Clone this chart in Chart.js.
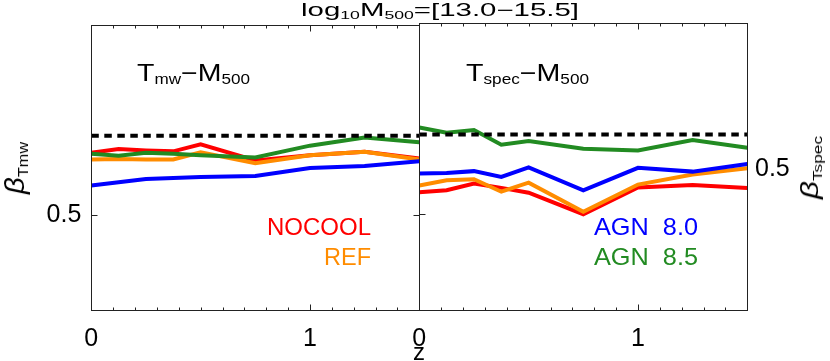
<!DOCTYPE html>
<html>
<head>
<meta charset="utf-8">
<script src="https://cdn.jsdelivr.net/npm/chart.js@4.4.1/dist/chart.umd.min.js"></script>
<style>
  html, body { margin: 0; padding: 0; background: #fff; }
  #wrap { position: relative; width: 830px; height: 361px; overflow: hidden; font-family: 'Liberation Sans', Arial, sans-serif; }
  .box { position: absolute; top: 0; height: 361px; }
  .txt { position: absolute; white-space: nowrap; line-height: 1; transform-origin: 0 0; }
  .txt span { position: relative; font-size: 0.6em; top: 0.27em; }
  .txt span.vs { font-size: 0.55em; top: 0.3em; }
</style>
</head>
<body>
<div id="wrap">
  <div class="box" style="left:0;width:420px"><canvas id="tmw"></canvas></div>
  <div class="box" style="left:400px;width:430px"><canvas id="tspec"></canvas></div>
</div>
<script>
const redshifts = [0, 0.125, 0.25, 0.375, 0.5, 0.75, 1.0, 1.25, 1.5]
const selfSimilar = 2 / 3

// slope of T_mw - M500
const tmwNocool = [0.631, 0.639, 0.636, 0.634, 0.649, 0.615, 0.626, 0.633, 0.619]
const tmwRef = [0.617, 0.618, 0.617, 0.617, 0.632, 0.609, 0.626, 0.633, 0.617]
const tmwAgn80 = [0.562, 0.569, 0.576, 0.578, 0.580, 0.582, 0.599, 0.603, 0.613]
const tmwAgn85 = [0.629, 0.625, 0.631, 0.629, 0.626, 0.621, 0.646, 0.663, 0.653]

// slope of T_spec - M500
const tspecNocool = [0.546, 0.550, 0.564, 0.555, 0.545, 0.500, 0.556, 0.561, 0.555]
const tspecRef = [0.560, 0.571, 0.573, 0.547, 0.566, 0.505, 0.562, 0.583, 0.596]
const tspecAgn80 = [0.585, 0.586, 0.590, 0.578, 0.598, 0.550, 0.597, 0.589, 0.605]
const tspecAgn85 = [0.681, 0.670, 0.676, 0.645, 0.653, 0.637, 0.633, 0.655, 0.639]

const xTicks = [0, 1]
const yTicks = [0.5]

const red = '#ff0000'
const orange = '#ff8c00'
const blue = '#0000ff'
const green = 'rgb(34,139,34)'
const tickFont = { family: "'Liberation Sans', Arial, sans-serif", size: 25 }

const pts = (ys) => ys.map((y, i) => ({ x: redshifts[i], y }))

const lineSet = (label, ys, color, order) => ({
  label,
  data: pts(ys),
  borderColor: color,
  borderWidth: 4,
  pointRadius: 0,
  order,
  clip: 0,
})

const dashedSet = () => ({
  label: 'self-similar',
  data: [
    { x: redshifts[0], y: selfSimilar },
    { x: redshifts[redshifts.length - 1], y: selfSimilar },
  ],
  borderColor: '#000',
  borderWidth: 4,
  borderDash: [7.5, 5.5],
  pointRadius: 0,
  order: 0,
  clip: 0,
})

const series = (nocool, ref, agn80, agn85) => [
  dashedSet(),
  lineSet('AGN 8.5', agn85, green, 1),
  lineSet('AGN 8.0', agn80, blue, 2),
  lineSet('REF', ref, orange, 3),
  lineSet('NOCOOL', nocool, red, 4),
]

// crisp 1px lines
const px = (v) => Math.round(v) + 0.5

// box round each panel, IDL-style ticks pointing inwards
const frameTicks = {
  id: 'frameTicks',
  afterDatasetsDraw(chart, args, opts) {
    const { ctx, chartArea: a, scales } = chart
    const l = px(a.left), r = px(a.right), t = px(a.top), b = px(a.bottom)
    ctx.save()
    ctx.strokeStyle = '#222'
    ctx.lineWidth = 1
    ctx.strokeRect(l, t, r - l, b - t)
    ctx.beginPath()
    for (let i = 0; i <= 15; i++) {
      const x = px(scales.x.getPixelForValue(i / 10))
      const len = i % 10 === 0 ? 6 : 3
      ctx.moveTo(x, b)
      ctx.lineTo(x, b - len)
      ctx.moveTo(x, t)
      ctx.lineTo(x, t + len)
    }
    yTicks.forEach((v) => {
      const y = px(scales.y.getPixelForValue(v))
      ctx.moveTo(l, y)
      ctx.lineTo(l + 6, y)
      if (opts.rightTicks) {
        ctx.moveTo(r, y)
        ctx.lineTo(r - 6, y)
      }
    })
    ctx.stroke()
    ctx.restore()
  },
}

const setTicks = (values) => (axis) => {
  axis.ticks = values.map((value) => ({ value }))
}

const xScale = {
  type: 'linear',
  min: 0,
  max: 1.5,
  afterBuildTicks: setTicks(xTicks),
  afterFit: (a) => {
    a.height = 51
    // the "0" label may hang over the panel edge
    a.paddingLeft = 0
    a.paddingRight = 0
  },
  grid: { display: false, drawTicks: false },
  border: { display: false },
  ticks: { font: tickFont, color: '#000', padding: 14, maxRotation: 0 },
}

const tmwChart = new Chart(document.getElementById('tmw'), {
  type: 'line',
  data: { datasets: series(tmwNocool, tmwRef, tmwAgn80, tmwAgn85) },
  options: {
    animation: false,
    responsive: true,
    maintainAspectRatio: false,
    layout: { padding: { top: 22.7, right: 0.7, left: 0, bottom: 0 } },
    plugins: { legend: { display: false }, tooltip: { enabled: false }, frameTicks: { rightTicks: true } },
    scales: {
      x: xScale,
      y: {
        min: 0.3,
        max: 0.9,
        afterBuildTicks: setTicks(yTicks),
        afterFit: (a) => { a.width = 91.3 },
        grid: { display: false, drawTicks: false },
        border: { display: false },
        ticks: { font: tickFont, color: '#000', padding: 10 },
      },
    },
  },
  plugins: [frameTicks],
})

const tspecChart = new Chart(document.getElementById('tspec'), {
  type: 'line',
  data: { datasets: series(tspecNocool, tspecRef, tspecAgn80, tspecAgn85) },
  options: {
    animation: false,
    responsive: true,
    maintainAspectRatio: false,
    layout: { padding: { top: 22.7, right: 0, left: 0, bottom: 0 } },
    plugins: { legend: { display: false }, tooltip: { enabled: false }, frameTicks: { rightTicks: false } },
    scales: {
      x: xScale,
      y: {
        min: 0.3,
        max: 0.9,
        afterBuildTicks: setTicks(yTicks),
        afterFit: (a) => { a.width = 19.3 },
        grid: { display: false, drawTicks: false },
        border: { display: false },
        ticks: { display: false },
      },
      y2: {
        position: 'right',
        min: 0.2,
        max: 0.81,
        afterBuildTicks: setTicks(yTicks),
        afterFit: (a) => { a.width = 82.7 },
        grid: { display: false, drawTicks: false },
        border: { display: false },
        ticks: { font: tickFont, color: '#000', padding: 7.7 },
      },
    },
  },
  plugins: [frameTicks],
})

// text with subscripts
const wrap = document.getElementById('wrap')
const addText = (html, { size, left, right, base, color = '#000' }) => {
  const d = document.createElement('div')
  d.className = 'txt'
  d.innerHTML = html
  d.style.fontSize = size + 'px'
  d.style.color = color
  wrap.appendChild(d)
  const s = (right - left) / d.getBoundingClientRect().width
  d.style.left = left + 'px'
  d.style.top = base - 0.8465 * size + 'px'
  d.style.transform = `scaleX(${s})`
}
const addVText = (html, { size, x, bottom, top }) => {
  const d = document.createElement('div')
  d.className = 'txt'
  d.innerHTML = html
  d.style.fontSize = size + 'px'
  wrap.appendChild(d)
  const s = (bottom - top) / d.getBoundingClientRect().width
  d.style.left = x + 'px'
  d.style.top = bottom + 'px'
  d.style.transform = `rotate(-90deg) scaleX(${s})`
}

addText('log<span>10</span>M<span>500</span>=[13.0\u221215.5]', { size: 17.7, left: 301, right: 579, base: 16.7 })
addText('T<span>mw</span>\u2212M<span>500</span>', { size: 23.7, left: 137, right: 250, base: 81.7 })
addText('T<span>spec</span>\u2212M<span>500</span>', { size: 23.7, left: 466, right: 589, base: 81.7 })
addText('NOCOOL', { size: 24.5, left: 267, right: 371, base: 235.7, color: red })
addText('REF', { size: 24.5, left: 324, right: 371, base: 265.5, color: orange })
addText('AGN&nbsp;&nbsp;8.0', { size: 24.5, left: 594, right: 698, base: 235.7, color: blue })
addText('AGN&nbsp;&nbsp;8.5', { size: 24.5, left: 594, right: 698, base: 265.5, color: green })
addText('z', { size: 24, left: 413, right: 425, base: 360.5 })
addVText('<i>\u03b2</i><span class="vs">Tmw</span>', { size: 27, x: 2, bottom: 194, top: 142 })
addVText('<i>\u03b2</i><span class="vs">Tspec</span>', { size: 24, x: 798, bottom: 199, top: 136 })
</script>
</body>
</html>
